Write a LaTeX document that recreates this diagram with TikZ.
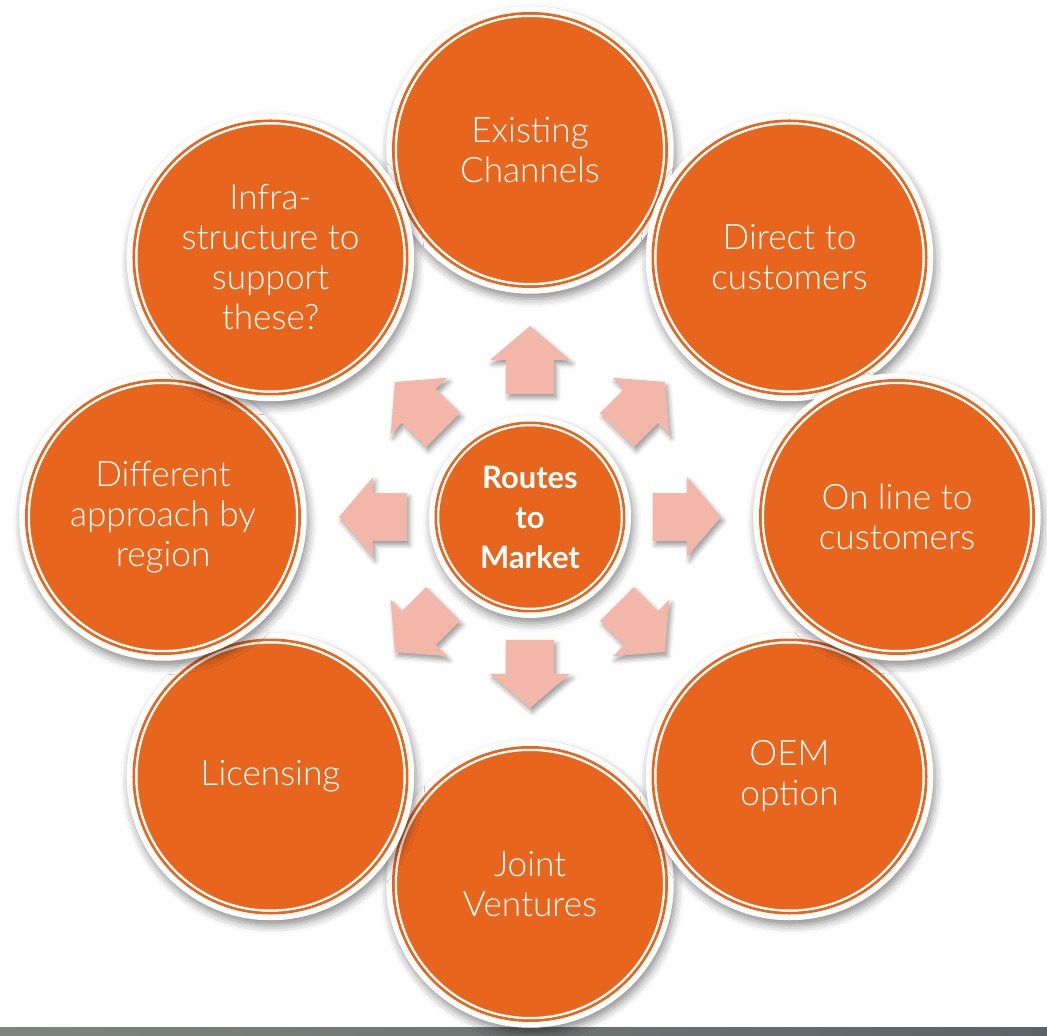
\documentclass[tikz,border=0pt]{standalone}
\usepackage{fontspec}
\setmainfont{Lato}
\newfontfamily\thinfont{Lato Light}
\usetikzlibrary{shadows.blur}
\definecolor{rtmorange}{RGB}{232,101,30}
\definecolor{rtmpink}{RGB}{243,183,170}
\definecolor{barleft}{RGB}{128,132,128}
\definecolor{barright}{RGB}{94,98,100}
\tikzset{
  softshadow/.style={blur shadow={shadow xshift=.05cm, shadow yshift=-.13cm,
    shadow blur radius=.2cm, shadow opacity=45, shadow scale=#1}},
  bubble/.style={circle, inner sep=0pt, minimum size=6.8375cm, softshadow=1.05,
    preaction={draw=white, line width=.35cm},
    fill=rtmorange, draw=rtmorange, line width=.0625cm,
    path picture={\draw[white, line width=.0625cm] (path picture bounding box.center) circle (3.356);}},
  hub/.style={circle, inner sep=0pt, minimum size=4.7125cm, softshadow=1.07,
    preaction={draw=white, line width=.3375cm},
    fill=rtmorange, draw=rtmorange, line width=.0625cm,
    path picture={\draw[white, line width=.0625cm] (path picture bounding box.center) circle (2.3);}},
  txt/.style={align=center, text=white, font=\thinfont\fontsize{25}{28.45}\selectfont},
  hubtxt/.style={txt, font=\fontsize{22}{28.45}\selectfont\bfseries},
  arrowfill/.style={fill=rtmpink, blur shadow={shadow xshift=.06cm, shadow yshift=-.1cm,
    shadow blur radius=.12cm, shadow opacity=40}}
}
% name, angle, label
\newcommand{\bub}[3]{
  \node[bubble] (#1) at (#2:9.175) {};
  \node[txt] (#1 label) at (#1) {#3};
}

\begin{document}
\begin{tikzpicture}
  \useasboundingbox (-13.25,-12.975) rectangle (12.925,12.925);
  \shade[left color=barleft, right color=barright] (-13.25,-12.775) rectangle (12.925,-12.975);

  \bub{jv}{270}{Joint\\Ventures}
  \bub{lic}{225}{Licensing}
  \bub{oem}{315}{OEM\\option}
  \bub{ext}{90}{Existing\\Channels}
  \bub{dif}{180}{Different\\approach by\\region}
  \bub{dir}{45}{Direct to\\customers}
  \bub{inf}{135}{Infra-\\structure to\\support\\these?}
  \bub{onl}{0}{On line to\\customers}

  \foreach \a in {0,45,...,315}
    \fill[arrowfill] ({\a-11.04}:3.133) -- ({\a-8.69}:3.971) -- ({\a-14.29}:4.05) -- (\a:4.775)
      -- ({\a+14.29}:4.05) -- ({\a+8.69}:3.971) -- ({\a+11.04}:3.133) -- cycle;

  \node[hub] (hub) at (0,0) {};
  \node[hubtxt] (hub label) at (hub) {Routes\\to\\Market};
\end{tikzpicture}
\end{document}
